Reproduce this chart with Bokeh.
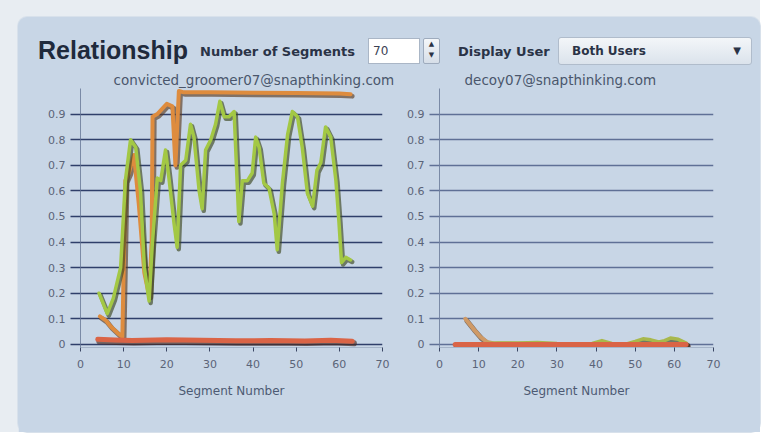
from bokeh.plotting import figure
from bokeh.layouts import column, row
from bokeh.models import Div, Range1d, FixedTicker, Spacer
from bokeh.embed import file_html
from bokeh.resources import INLINE

# ---------------- data ----------------
title_main = "Relationship"
user_left = "convicted_groomer07@snapthinking.com"
user_right = "decoy07@snapthinking.com"
segments_value = "70"
display_user = "Both Users"
x_title = "Segment Number"

x_ticks = [0, 10, 20, 30, 40, 50, 60, 70]
y_ticks = [0, 0.1, 0.2, 0.3, 0.4, 0.5, 0.6, 0.7, 0.8, 0.9]
y_tick_labels = ["0", "0.1", "0.2", "0.3", "0.4", "0.5", "0.6", "0.7", "0.8", "0.9"]

# left chart (convicted user)
x_green_l = [4.3, 6.2, 7.6, 9.3, 10.4, 11.6, 12.8, 13.9, 14.8, 15.9, 16.6, 17.8, 18.6, 19.7,
             20.5, 21.7, 22.4, 23.2, 24.4, 25.5, 26.3, 27.5, 28.2, 29.0, 30.2, 31.3, 32.3,
             33.3, 34.4, 35.6, 36.7, 37.5, 38.7, 39.8, 40.6, 41.4, 42.5, 43.7, 44.9, 45.6,
             46.8, 48.0, 49.1, 50.3, 51.4, 52.6, 53.8, 54.8, 55.7, 56.8, 58.0, 59.2, 59.9,
             60.5, 61.5, 62.6]
y_green_l = [0.20, 0.12, 0.18, 0.30, 0.64, 0.80, 0.77, 0.60, 0.30, 0.17, 0.38, 0.65, 0.64, 0.76,
             0.65, 0.47, 0.38, 0.70, 0.72, 0.86, 0.81, 0.60, 0.53, 0.76, 0.80, 0.86, 0.95,
             0.89, 0.89, 0.91, 0.48, 0.64, 0.64, 0.67, 0.81, 0.77, 0.63, 0.61, 0.51, 0.37,
             0.63, 0.82, 0.91, 0.89, 0.77, 0.59, 0.54, 0.68, 0.71, 0.85, 0.81, 0.64, 0.48,
             0.32, 0.34, 0.33]
x_orange_l = [4.5, 5.8, 7.0, 8.9, 9.7, 10.4, 11.2, 12.4, 13.5, 14.8, 15.9, 16.5, 16.7, 17.8,
              20.0, 21.3, 22.0, 22.8, 24.0, 30.0, 40.0, 50.0, 60.0, 62.6]
y_orange_l = [0.11, 0.095, 0.07, 0.04, 0.03, 0.64, 0.67, 0.74, 0.55, 0.28, 0.19, 0.40, 0.89, 0.90,
              0.94, 0.93, 0.70, 0.99, 0.985, 0.985, 0.983, 0.982, 0.98, 0.978]
x_red_l = [4, 8, 12, 20, 28, 36, 44, 52, 58, 63]
y_red_l = [0.020, 0.017, 0.015, 0.018, 0.016, 0.014, 0.015, 0.013, 0.016, 0.012]

# right chart (decoy user)
x_orange_r = [6.6, 8.7, 10.4, 12.1, 14, 20, 30, 40, 50, 60, 63]
y_orange_r = [0.10, 0.06, 0.03, 0.01, 0.004, 0.003, 0.002, 0.002, 0.002, 0.002, 0.002]
x_green_r = [12, 15, 20, 25, 30, 35, 39, 41.5, 44, 48, 50, 52, 54, 56, 57.5, 59, 61, 63]
y_green_r = [0.004, 0.006, 0.006, 0.008, 0.004, 0.002, 0.004, 0.015, 0.004, 0.003, 0.012,
             0.022, 0.018, 0.010, 0.015, 0.025, 0.020, 0.005]
x_red_r = [4, 15, 30, 45, 63]
y_red_r = [0.0, 0.0, 0.0, 0.0, 0.0]

# ---------------- styles ----------------
PANEL = "#c8d6e6"
OUTER = "#e8edf2"
GREEN, GREEN_SH = "#a3c844", "#3c4620"
ORANGE, ORANGE_SH = "#de8c3e", "#5a3a20"
RED, RED_SH = "#da6446", "#4a2a20"
TICK_FONT = "DejaVu Sans"
Y0, Y1 = -0.012, 1.0
FIG_H = 364
HEAD_H = 51


def make_fig(width, left, right, grid_color, title_text, title_offset, series):
    p = figure(width=width, height=FIG_H, x_range=Range1d(0, 70), y_range=Range1d(Y0, Y1),
               output_backend="svg", toolbar_location=None,
               min_border_left=left, min_border_right=right,
               min_border_top=0, min_border_bottom=85,
               background_fill_color=PANEL, border_fill_color=PANEL,
               outline_line_color=None)
    p.title.text = title_text
    p.title.align = "left"
    p.title.offset = title_offset
    p.title.standoff = 2
    p.title.text_font = TICK_FONT
    p.title.text_font_size = "13.5px"
    p.title.text_font_style = "normal"
    p.title.text_color = "#4a566c"

    # pixel shift ranges for drop shadows
    fw = width - left - right
    dx = 1.6 * 70 / fw
    dy = 2.0 * (Y1 - Y0) / 260
    p.extra_x_ranges = {"sx": Range1d(0 - dx, 70 - dx)}
    p.extra_y_ranges = {"sy": Range1d(Y0 + dy, Y1 + dy)}

    p.xgrid.visible = False
    p.ygrid.ticker = FixedTicker(ticks=y_ticks)
    p.ygrid.grid_line_color = grid_color
    p.ygrid.grid_line_width = 1.3

    xa = p.xaxis[0]
    xa.ticker = FixedTicker(ticks=x_ticks)
    xa.axis_line_color = "#a6b5c9"
    xa.major_tick_line_color = "#3a4664"
    xa.major_tick_out = 4
    xa.major_tick_in = 0
    xa.minor_tick_line_color = None
    xa.major_label_standoff = 8
    xa.major_label_text_font = TICK_FONT
    xa.major_label_text_font_size = "11px"
    xa.major_label_text_color = "#5b6478"
    xa.axis_label = x_title
    xa.axis_label_standoff = 13
    xa.axis_label_text_font = TICK_FONT
    xa.axis_label_text_font_size = "12px"
    xa.axis_label_text_font_style = "normal"
    xa.axis_label_text_color = "#4d5a73"

    ya = p.yaxis[0]
    ya.ticker = FixedTicker(ticks=y_ticks)
    ya.major_label_overrides = {t: s for t, s in zip(y_ticks, y_tick_labels)}
    ya.axis_line_color = "#7a8aa6"
    ya.major_tick_line_color = grid_color
    ya.major_tick_line_width = 1.3
    ya.major_tick_out = 10
    ya.major_tick_in = 0
    ya.minor_tick_line_color = None
    ya.major_label_standoff = 5
    ya.major_label_text_font = TICK_FONT
    ya.major_label_text_font_size = "11px"
    ya.major_label_text_color = "#5b6478"

    for xs, ys, col, sh, w in series:
        p.line(xs, ys, line_color=sh, line_width=w + 1, line_alpha=0.65,
               x_range_name="sx", y_range_name="sy", line_join="round", line_cap="round")
        p.line(xs, ys, line_color=col, line_width=w, line_join="round", line_cap="round")
    return p


p_left = make_fig(386, 62, 22, "#2f3f6a", user_left, 33, [
    (x_orange_l, y_orange_l, ORANGE, ORANGE_SH, 4),
    (x_green_l, y_green_l, GREEN, GREEN_SH, 3.5),
    (x_red_l, y_red_l, RED, RED_SH, 5),
])
p_right = make_fig(356, 35, 47, "#5f7096", user_right, 25, [
    (x_orange_r, y_orange_r, "#cf9a66", ORANGE_SH, 4),
    (x_green_r, y_green_r, "#a8b84c", GREEN_SH, 3.5),
    (x_red_r, y_red_r, RED, RED_SH, 5),
])

header_html = f"""
<div style="position:relative;width:742px;height:{HEAD_H}px;">
 <span style="position:absolute;left:20px;top:18px;font-family:'Liberation Sans',Arial,sans-serif;
   font-weight:bold;font-size:25px;line-height:30px;color:#1f2a3c;white-space:nowrap;">{title_main}</span>
 <span style="position:absolute;left:182px;top:27px;font-family:'DejaVu Sans',sans-serif;
   font-weight:bold;font-size:13px;line-height:15px;color:#2a3346;white-space:nowrap;">Number of Segments</span>
 <div style="position:absolute;left:350px;top:21px;width:52px;height:26px;background:#ffffff;
   border:1px solid #aab6c6;box-sizing:border-box;font-family:'DejaVu Sans',sans-serif;font-size:12px;
   line-height:24px;padding-left:4px;color:#3a4254;">{segments_value}</div>
 <div style="position:absolute;left:405px;top:21px;width:17px;height:26px;box-sizing:border-box;
   background:linear-gradient(#f4f7fa,#d6dee8);border:1px solid #9eabbd;border-radius:2px;
   font-family:'DejaVu Sans',sans-serif;font-size:7px;line-height:11px;text-align:center;color:#2a3346;">&#9650;<br>&#9660;</div>
 <span style="position:absolute;left:440px;top:27px;font-family:'DejaVu Sans',sans-serif;
   font-weight:bold;font-size:13px;line-height:15px;color:#2a3346;white-space:nowrap;">Display User</span>
 <div style="position:absolute;left:540px;top:20px;width:194px;height:28px;box-sizing:border-box;
   background:linear-gradient(#f3f6f9,#dbe3ec);border:1px solid #b0bccb;border-radius:3px;
   font-family:'DejaVu Sans',sans-serif;font-weight:bold;font-size:12px;line-height:26px;
   padding-left:13px;color:#2a3346;">{display_user}
   <span style="position:absolute;right:10px;top:0px;font-size:10px;">&#9660;</span></div>
</div>
"""
header = Div(text=header_html, width=742, height=HEAD_H, styles={"margin": "0", "padding": "0"})

panel = column(header, row(p_left, p_right, spacing=0), spacing=0, width=742,
               height=HEAD_H + FIG_H,
               styles={"background-color": PANEL, "border-radius": "9px",
                       "box-shadow": "0 0 0 1px #d8e1eb"})
page = column(Spacer(width=760, height=17),
              row(Spacer(width=18, height=HEAD_H + FIG_H), panel, spacing=0),
              width=760, height=432, spacing=0,
              styles={"background-color": OUTER})

open("out.html", "w").write(file_html(page, INLINE))
